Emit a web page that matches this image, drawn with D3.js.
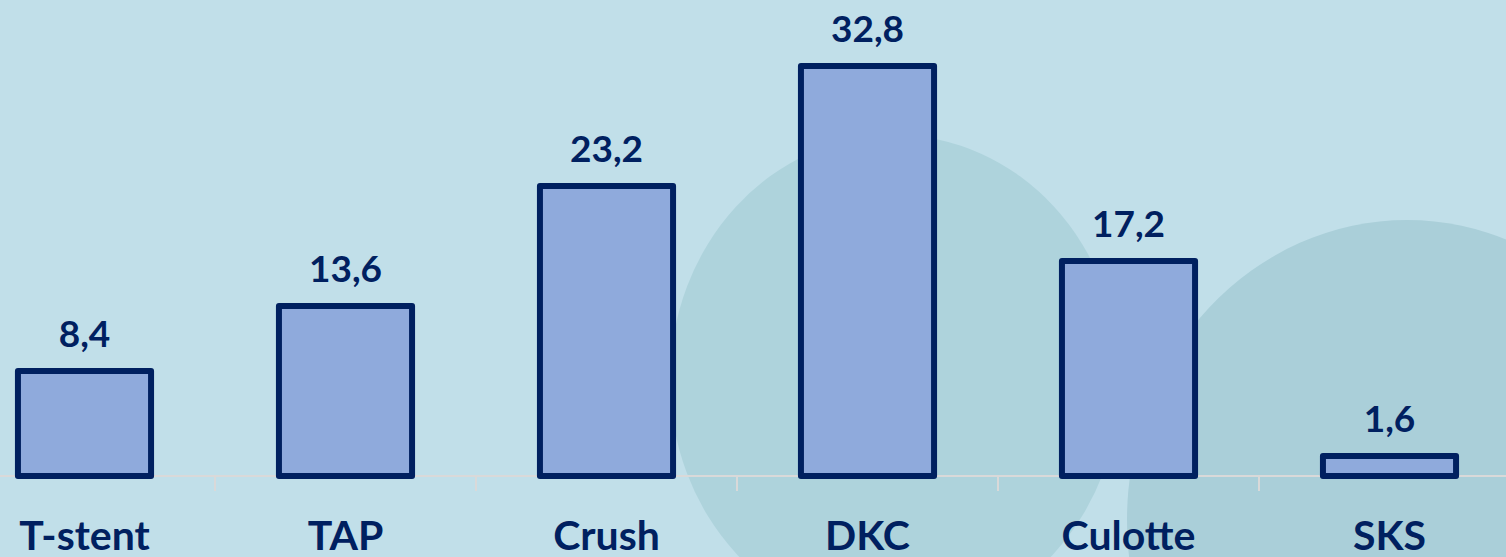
<!DOCTYPE html>
<meta charset="utf-8">
<style>
  body { margin: 0; background: #c1dfe9; }
  svg { display: block; }
  .lbl { font-family: Lato, "Open Sans", sans-serif; font-weight: 700; fill: #002060; }
</style>
<script src="https://d3js.org/d3.v7.min.js"></script>
<div id="chart"></div>
<script>
// data
var categories = ["T-stent", "TAP", "Crush", "DKC", "Culotte", "SKS"];
var values = [8.4, 13.6, 23.2, 32.8, 17.2, 1.6];
var valueLabels = ["8,4", "13,6", "23,2", "32,8", "17,2", "1,6"];

var width = 1506, height = 557;
var baseY = 476;

var svg = d3.select("#chart").append("svg")
  .attr("width", width)
  .attr("height", height);

// faint decorative background shapes
svg.append("rect").attr("width", width).attr("height", height).attr("fill", "#c1dfe9");
svg.append("ellipse")
  .attr("cx", 895).attr("cy", 380).attr("rx", 225).attr("ry", 245)
  .attr("fill", "#aed3dc");
svg.append("ellipse")
  .attr("cx", 1407).attr("cy", 520).attr("rx", 280).attr("ry", 300)
  .attr("fill", "#aacfd9");

// scales
var x = d3.scaleBand()
  .domain(categories)
  .range([-46, 1520])
  .paddingInner(0.49)
  .paddingOuter(0.245);

var y = d3.scaleLinear()
  .domain([0, 40])
  .range([baseY, baseY - 500]);

// axis line with ticks between categories
var axis = svg.append("g").attr("transform", "translate(0," + baseY + ")");
axis.append("line")
  .attr("x1", 0).attr("x2", width)
  .attr("stroke", "#d9d9d9").attr("stroke-width", 2);
axis.selectAll("line.tick")
  .data(categories.slice(1))
  .enter().append("line")
  .attr("class", "tick")
  .attr("x1", function(d) { return x(d) - x.step() * x.paddingInner() / 2; })
  .attr("x2", function(d) { return x(d) - x.step() * x.paddingInner() / 2; })
  .attr("y1", 0).attr("y2", 15)
  .attr("stroke", "#d9d9d9").attr("stroke-width", 2);

// bars
svg.selectAll("rect.bar")
  .data(values)
  .enter().append("rect")
  .attr("class", "bar")
  .attr("x", function(d, i) { return x(categories[i]); })
  .attr("y", function(d) { return y(d); })
  .attr("width", x.bandwidth())
  .attr("height", function(d) { return baseY - y(d); })
  .attr("fill", "#8faadc")
  .attr("stroke", "#002060")
  .attr("stroke-width", 6)
  .attr("stroke-linejoin", "round");

// value labels
svg.selectAll("text.val")
  .data(values)
  .enter().append("text")
  .attr("class", "lbl val")
  .attr("x", function(d, i) { return x(categories[i]) + x.bandwidth() / 2; })
  .attr("y", function(d) { return y(d) - 24; })
  .attr("text-anchor", "middle")
  .attr("font-size", 37)
  .text(function(d, i) { return valueLabels[i]; });

// category labels
svg.selectAll("text.cat")
  .data(categories)
  .enter().append("text")
  .attr("class", "lbl cat")
  .attr("x", function(d) { return x(d) + x.bandwidth() / 2; })
  .attr("y", 550)
  .attr("text-anchor", "middle")
  .attr("font-size", 41)
  .text(function(d) { return d; });
</script>
